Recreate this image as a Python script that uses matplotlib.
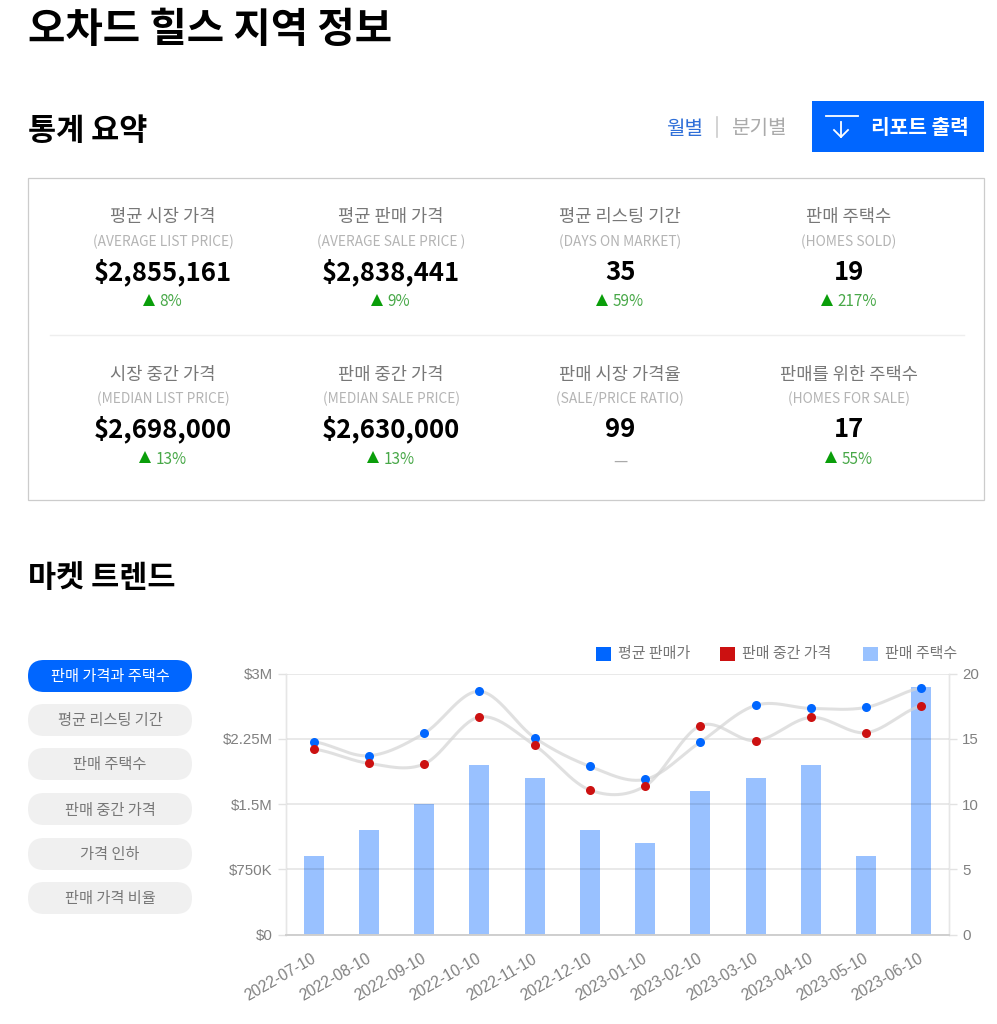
import numpy as np
import matplotlib
matplotlib.use("Agg")
import matplotlib.pyplot as plt
from matplotlib.patches import FancyBboxPatch, Rectangle
from matplotlib.transforms import ScaledTranslation

KR = ["Noto Sans CJK KR", "DejaVu Sans"]
AR = ["Liberation Sans", "DejaVu Sans"]
BLUE = "#0066ff"; RED = "#cc1111"; BAR = "#0066ff"; TICK = "#808080"

# summary cards
stat_ko = ["평균 시장 가격", "평균 판매 가격", "평균 리스팅 기간", "판매 주택수",
           "시장 중간 가격", "판매 중간 가격", "판매 시장 가격율", "판매를 위한 주택수"]
stat_en = ["(AVERAGE LIST PRICE)", "(AVERAGE SALE PRICE )", "(DAYS ON MARKET)", "(HOMES SOLD)",
           "(MEDIAN LIST PRICE)", "(MEDIAN SALE PRICE)", "(SALE/PRICE RATIO)", "(HOMES FOR SALE)"]
stat_val = ["$2,855,161", "$2,838,441", "35", "19", "$2,698,000", "$2,630,000", "99", "17"]
stat_chg = ["8%", "9%", "59%", "217%", "13%", "13%", "—", "55%"]

# chart data
dates = ["2022-07-10", "2022-08-10", "2022-09-10", "2022-10-10", "2022-11-10", "2022-12-10",
         "2023-01-10", "2023-02-10", "2023-03-10", "2023-04-10", "2023-05-10", "2023-06-10"]
avg_price = [2.218, 2.057, 2.314, 2.797, 2.264, 1.935, 1.785, 2.215, 2.636, 2.601, 2.613, 2.838]
med_price = [2.134, 1.969, 1.962, 2.502, 2.176, 1.663, 1.709, 2.402, 2.230, 2.498, 2.322, 2.630]
homes = [6, 8, 10, 13, 12, 8, 7, 11, 12, 13, 6, 19]
price_ticks = [0, 0.75, 1.5, 2.25, 3]
price_labels = ["$0", "$750K", "$1.5M", "$2.25M", "$3M"]
homes_ticks = [0, 5, 10, 15, 20]
pills = ["판매 가격과 주택수", "평균 리스팅 기간", "판매 주택수", "판매 중간 가격", "가격 인하", "판매 가격 비율"]


def smooth(y, n=30):
    # catmull-rom through the points, same feel as the curved lines in google charts
    y = np.asarray(y, float)
    t = np.zeros_like(y)
    t[1:-1] = (y[2:] - y[:-2]) / 2
    t[0] = (y[1] - y[0]) / 2
    t[-1] = (y[-1] - y[-2]) / 2
    xs, ys = [], []
    for i in range(len(y) - 1):
        u = np.linspace(0, 1, n)
        h00 = 2*u**3 - 3*u**2 + 1; h10 = u**3 - 2*u**2 + u
        h01 = -2*u**3 + 3*u**2; h11 = u**3 - u**2
        xs.append(i + u)
        ys.append(h00*y[i] + h10*t[i] + h01*y[i+1] + h11*t[i+1])
    return np.concatenate(xs), np.concatenate(ys)


fig = plt.figure(figsize=(9.97, 10.24), dpi=100, facecolor="white")
ax = fig.add_axes([0, 0, 1, 1])
ax.set_xlim(0, 997); ax.set_ylim(1024, 0); ax.axis("off")
renderer = fig.canvas.get_renderer()


def txt(x, y, s, size, color="#000000", weight="normal", ha="center", fam=KR, va="center"):
    return ax.text(x, y, s, fontsize=size, color=color, fontweight=weight, ha=ha, va=va, family=fam)


# ---------- headings ----------
txt(28, 31, "오차드 힐스 지역 정보", 29.3, weight="bold", ha="left")
txt(28, 131, "통계 요약", 22, weight="bold", ha="left")
txt(28, 578, "마켓 트렌드", 22, weight="bold", ha="left")

txt(684.5, 129, "월별", 14.5, color="#2f6fd8", weight="medium")
ax.plot([717, 717], [117, 137], color="#cccccc", lw=1.2)
txt(759, 129, "분기별", 14.5, color="#aaaaaa", weight="medium")

ax.add_patch(Rectangle((812, 101), 172, 51, facecolor=BLUE, edgecolor="none"))
ax.plot([826, 858], [115.7, 115.7], color="white", lw=1.3)
ax.plot([841, 841], [122, 137], color="white", lw=1.3)
ax.plot([834, 841, 848], [130, 137, 130], color="white", lw=1.3)
txt(920, 128, "리포트 출력", 14.6, color="white", weight="bold")

# ---------- summary box ----------
ax.add_patch(Rectangle((28, 177.5), 956, 322.5, facecolor="white", edgecolor="#cccccc", lw=0.9))
ax.plot([50, 964], [335, 335], color="#eeeeee", lw=1.0)
col_x = [163, 391, 620, 849]
row_y = [(217, 242, 280, 302), (375, 399, 437, 459)]
for i in range(8):
    cx = col_x[i % 4]
    y0, y1, y2, y3 = row_y[i // 4]
    txt(cx, y0, stat_ko[i], 12.7, color="#777777")
    txt(cx, y1, stat_en[i], 9.9, color="#b4b4b4")
    txt(cx, y2, stat_val[i], 18.5, weight="bold", va="baseline")
    if stat_chg[i] == "—":
        txt(cx, y3 + 2, stat_chg[i], 11.5, color="#aaaaaa")
    else:
        # triangle and percent are different greens, centre the pair on the column
        t = txt(cx, y3, stat_chg[i], 11, color="#48a848", ha="left")
        w = t.get_window_extent(renderer).width
        x0 = cx - (16 + w) / 2
        t.set_x(x0 + 16)
        ax.plot(x0 + 5.5, y3 - 2, marker="^", ms=8, mew=0, color="#0a9e0a", linestyle="none")

# ---------- side menu ----------
pill_y = [676, 720, 764, 809, 854, 898]
for i, (label, py) in enumerate(zip(pills, pill_y)):
    face = BLUE if i == 0 else "#f0f0f0"
    tc = "white" if i == 0 else "#777777"
    ax.add_patch(FancyBboxPatch((28, py - 16), 164, 32, boxstyle="round,pad=0,rounding_size=16",
                                facecolor=face, edgecolor="none"))
    txt(110, py + 1, label, 11, color=tc)

# ---------- legend ----------
legend = [(596, "평균 판매가", BLUE), (720, "판매 중간 가격", RED), (863, "판매 주택수", "#99c2ff")]
for lx, label, c in legend:
    ax.add_patch(Rectangle((lx, 646.5), 14.5, 14.5, facecolor=c, edgecolor="none"))
    txt(lx + 22, 654, label, 10.8, color="#757575", ha="left")

# ---------- chart ----------
left, right, top, bottom = 286, 949, 673.7, 934.7
pr = fig.add_axes([left/997, (1024-bottom)/1024, (right-left)/997, (bottom-top)/1024])
cnt = pr.twinx()
x = np.arange(len(dates))

pr.set_zorder(2); cnt.set_zorder(1); pr.patch.set_visible(False)
pr.set_xlim(-0.5, 11.5); pr.set_ylim(0, 3)
cnt.set_ylim(0, 20)

cnt.bar(x, homes, width=0.36, color=BAR, alpha=0.4, linewidth=0)
for series, c in ((avg_price, BLUE), (med_price, RED)):
    sx, sy = smooth(series)
    pr.plot(sx, sy, color="#d4d4d4", lw=2.2, alpha=0.7, zorder=3, solid_capstyle="round")
    pr.plot(x, series, "o", color=c, ms=6.5, mew=0, zorder=4, linestyle="none")

pr.set_yticks(price_ticks); pr.set_yticklabels(price_labels, family=AR, fontsize=10.8, color=TICK)
cnt.set_yticks(homes_ticks); cnt.set_yticklabels([str(v) for v in homes_ticks], family=AR, fontsize=10.8, color=TICK)
pr.set_xticks(x)
pr.set_xticklabels(dates, family=AR, fontsize=11.2, color=TICK, rotation=30, ha="right", rotation_mode="anchor")
pr.tick_params(axis="y", length=6, width=1, color="#e2e2e2", pad=3.5)
cnt.tick_params(axis="y", length=6, width=1, color="#e2e2e2", pad=3.5)
pr.tick_params(axis="x", length=0, pad=12)
cnt.tick_params(axis="x", length=0)
# tick_params resets label transforms, so the nudge has to come after it
shift = ScaledTranslation(-3/100, 0, fig.dpi_scale_trans)
for lab in pr.get_xticklabels():
    lab.set_transform(lab.get_transform() + shift)
pr.grid(axis="y", color="#000000", alpha=0.11, lw=1.1, zorder=1)
pr.set_axisbelow(True)
for a in (pr, cnt):
    for side, sp in a.spines.items():
        sp.set_visible(side in ("left", "right"))
        sp.set_color("#e6e6e6"); sp.set_linewidth(1.0)
pr.spines["bottom"].set_visible(True)
pr.spines["bottom"].set_color("#cfcfcf"); pr.spines["bottom"].set_linewidth(1.4)

fig.savefig("out.png", dpi=100, facecolor="white")
